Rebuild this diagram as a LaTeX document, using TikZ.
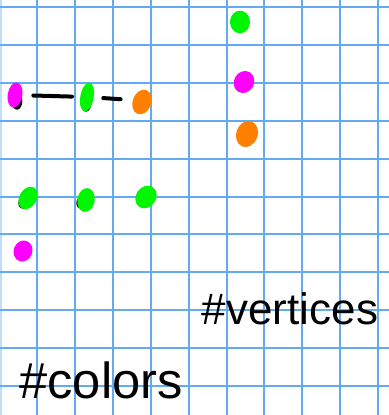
\documentclass[tikz,border=0pt]{standalone}
\usepackage{fontspec}
\setmainfont{Liberation Sans}
\usetikzlibrary{shapes.geometric}
\definecolor{gridblue}{HTML}{62AAF2}
\definecolor{inkmagenta}{HTML}{FF00FF}
\definecolor{inkgreen}{HTML}{00F500}
\definecolor{inkorange}{HTML}{FF8000}
\tikzset{
  gridline/.style={draw=gridblue, line width=1.5pt},
  blob/.style={ellipse, inner sep=0pt, draw=none},
  mdot/.style={blob, fill=inkmagenta},
  gdot/.style={blob, fill=inkgreen},
  odot/.style={blob, fill=inkorange},
  smudge/.style={blob, fill=black, minimum width=8pt, minimum height=13pt},
  link/.style={black, line width=3pt, line cap=round},
  hand/.style={font=\fontsize{33}{36}\selectfont, text=black, inner sep=0pt},
}

\begin{document}
\begin{tikzpicture}[x=0.75pt, y=-0.75pt]
    \useasboundingbox (0,0) rectangle (389,415);
    \fill[white] (0,0) rectangle (389,415);
    % grid paper
    \draw[draw=gridblue!40, line width=1.5pt] (0.8,0) -- (0.8,415);
    \foreach \gx in {0,...,9}
      \draw[gridline] ({37+37.9*\gx},0) -- ({37+37.9*\gx},415);
    \foreach \gy in {0,...,10}
      \draw[gridline] (0,{7+37.9*\gy}) -- (389,{7+37.9*\gy});
    % black marks under the dots
    \node[smudge] at (17,101) {};
    \node[smudge] at (86,103) {};
    \node[smudge, minimum width=6pt, minimum height=9pt] at (137,104) {};
    \node[smudge, minimum width=7pt, minimum height=9pt] at (23,203) {};
    \node[smudge, minimum width=7pt, minimum height=9pt] at (81,203) {};
    \node[smudge, minimum width=6pt, minimum height=8pt] at (141,200) {};
    % top row
    \node[mdot, minimum width=11pt, minimum height=19pt, rotate=-10] (m1) at (15,95) {};
    \node[gdot, minimum width=10pt, minimum height=22pt, rotate=-10] (g1) at (87,97) {};
    \node[odot, minimum width=14pt, minimum height=19pt, rotate=-20] (o1) at (142,102) {};
    \draw[link, shorten <=8pt, shorten >=6pt] (m1) -- (g1);
    \draw[link, shorten <=7pt, shorten >=9pt] ([yshift=5pt]g1) -- (o1);
    % middle row
    \node[gdot, minimum width=13pt, minimum height=18pt, rotate=-30] (g2) at (28,198) {};
    \node[gdot, minimum width=13pt, minimum height=18pt, rotate=-10] (g3) at (86,200) {};
    \node[gdot, minimum width=15pt, minimum height=18pt, rotate=-35] (g4) at (146,197) {};
    \node[mdot, minimum width=14pt, minimum height=16pt, rotate=-20] (m2) at (23,251) {};
    % right column
    \node[gdot, minimum width=15pt, minimum height=17pt] (g5) at (240,22) {};
    \node[mdot, minimum width=15pt, minimum height=17pt, rotate=-30] (m3) at (244,82) {};
    \node[odot, minimum width=16pt, minimum height=20pt, rotate=-20] (o2) at (247,134) {};
    % handwritten labels
    \node[hand] (vertlabel) at (290,309) {\#vertices};
    \node[hand, font=\fontsize{38}{40}\selectfont] (colorlabel) at (101,380) {\#colors};
\end{tikzpicture}
\end{document}
